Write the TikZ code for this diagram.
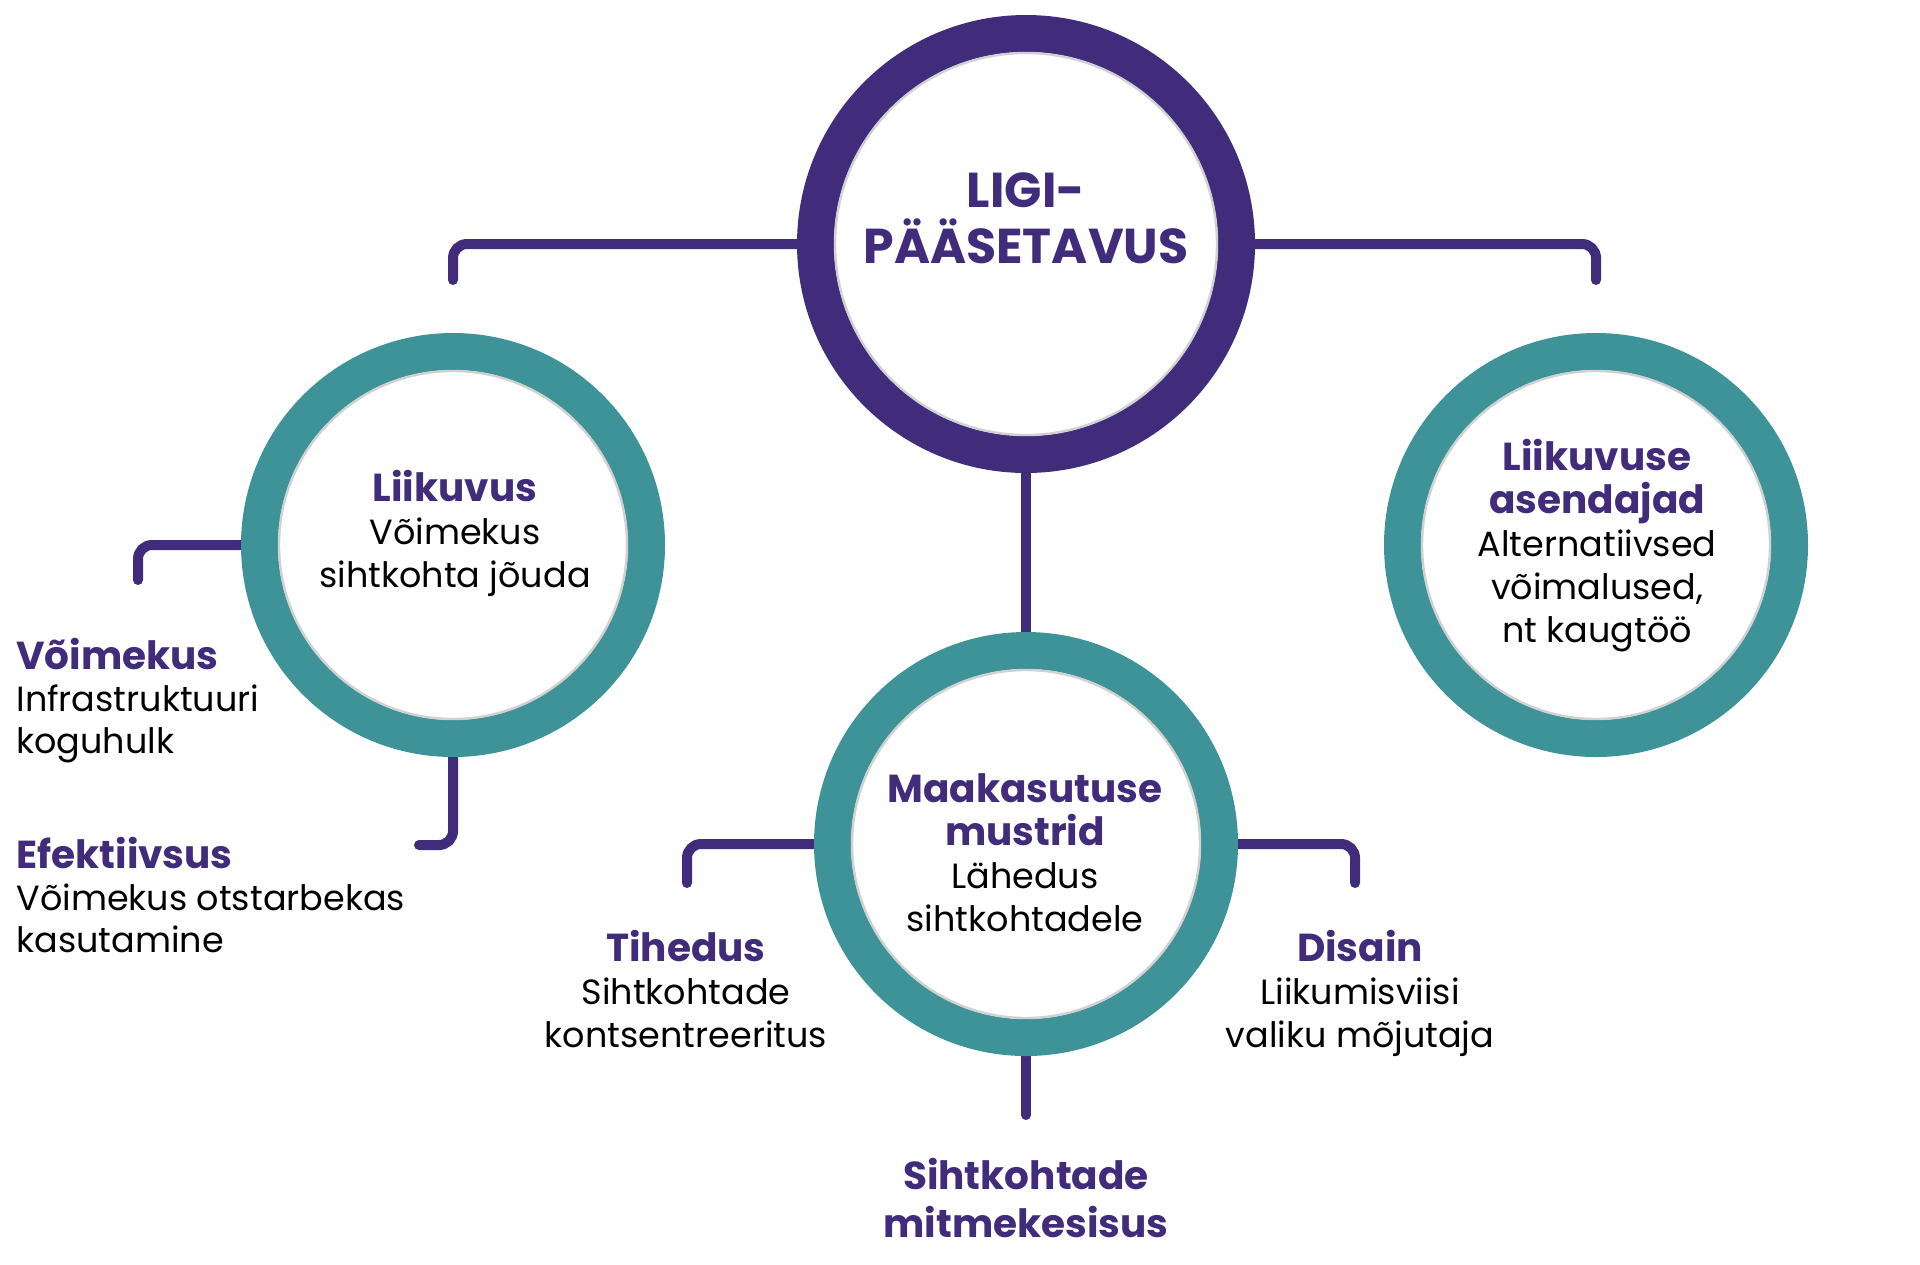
\documentclass[tikz,border=0pt]{standalone}
\usepackage{fontspec}
\setmainfont{Poppins}
\usetikzlibrary{backgrounds}
\definecolor{lilla}{RGB}{65,44,124}
\definecolor{tealc}{RGB}{62,147,152}
\newcommand\hdtxt[1]{{\fontsize{19.5}{21.5}\selectfont\bfseries\color{lilla}#1}}
\begin{document}
\begin{tikzpicture}[x=0.5pt,y=-0.5pt,
  ring/.style={circle, draw=#1, line width=18.5pt, fill=white, inner sep=0pt, minimum size=193.5pt},
  bigring/.style={circle, draw=#1, line width=18.5pt, fill=white, inner sep=0pt, minimum size=210.5pt},
  conn/.style={draw=lilla, line width=5pt, line cap=round, rounded corners=7pt},
  shade/.style={draw=black!18, line width=1.2pt},
  txt/.style={align=center, anchor=base, inner sep=0pt, font=\fontsize{17.5}{21.5}\selectfont},
  sidetxt/.style={align=left, anchor=base west, inner sep=0pt, font=\fontsize{17.5}{21}\selectfont},
  bigtxt/.style={align=center, anchor=base, inner sep=0pt, text=lilla, font=\fontsize{24.5}{28}\selectfont\bfseries},
  bottxt/.style={align=center, anchor=base, inner sep=0pt, text=lilla, font=\fontsize{19.5}{24}\selectfont\bfseries}
]
\begin{scope}[on background layer]
  \fill[white] (0,0) rectangle (1920,1264);
\end{scope}
\useasboundingbox (0,0) rectangle (1920,1264);

% circles
\node[bigring=lilla] (c0) at (1026,244) {};
\node[ring=tealc] (c1) at (453,545) {};
\node[ring=tealc] (c2) at (1596,545) {};
\node[ring=tealc] (c3) at (1026,844) {};

\draw[shade] (c0.center) circle[radius=95.5pt];
\draw[shade] (c1.center) circle[radius=87pt];
\draw[shade] (c2.center) circle[radius=87pt];
\draw[shade] (c3.center) circle[radius=87pt];

% free ends of connectors
\coordinate (e1) at (453,280);
\coordinate (e2) at (1596,280);
\coordinate (e4) at (138,580);
\coordinate (e5) at (419,845);
\coordinate (e6) at (687,883);
\coordinate (e7) at (1355,883);
\coordinate (e8) at (1026,1115);

\begin{scope}[on background layer]
  \draw[conn] (c0.center) -| (e1);
  \draw[conn] (c0.center) -| (e2);
  \draw[conn] (c0.center) -- (c3.center);
  \draw[conn] (c1.center) -| (e4);
  \draw[conn] (c1.center) |- (e5);
  \draw[conn] (c3.center) -| (e6);
  \draw[conn] (c3.center) -| (e7);
  \draw[conn] (c3.center) -- (e8);
\end{scope}

% texts (anchor base = baseline of last line)
\node[bigtxt] (t0) at (1026,263) {LIGI-\\PÄÄSETAVUS};
\node[txt] (t1) at (455,587) {\hdtxt{Liikuvus}\\Võimekus\\sihtkohta jõuda};
\node[txt] (t2) at (1597,642) {\hdtxt{Liikuvuse}\\\hdtxt{asendajad}\\Alternatiivsed\\võimalused,\\nt kaugtöö};
\node[txt] (t3) at (1025,931) {\hdtxt{Maakasutuse}\\\hdtxt{mustrid}\\Lähedus\\sihtkohtadele};
\node[sidetxt] (t4) at (16,753) {\hdtxt{Võimekus}\\Infrastruktuuri\\koguhulk};
\node[sidetxt] (t5) at (16,952) {\hdtxt{Efektiivsus}\\Võimekus otstarbekas\\kasutamine};
\node[txt] (t6) at (686,1047) {\hdtxt{Tihedus}\\Sihtkohtade\\kontsentreeritus};
\node[txt] (t7) at (1360,1047) {\hdtxt{Disain}\\Liikumisviisi\\valiku mõjutaja};
\node[bottxt] (t8) at (1026,1237) {Sihtkohtade\\mitmekesisus};
\end{tikzpicture}
\end{document}
